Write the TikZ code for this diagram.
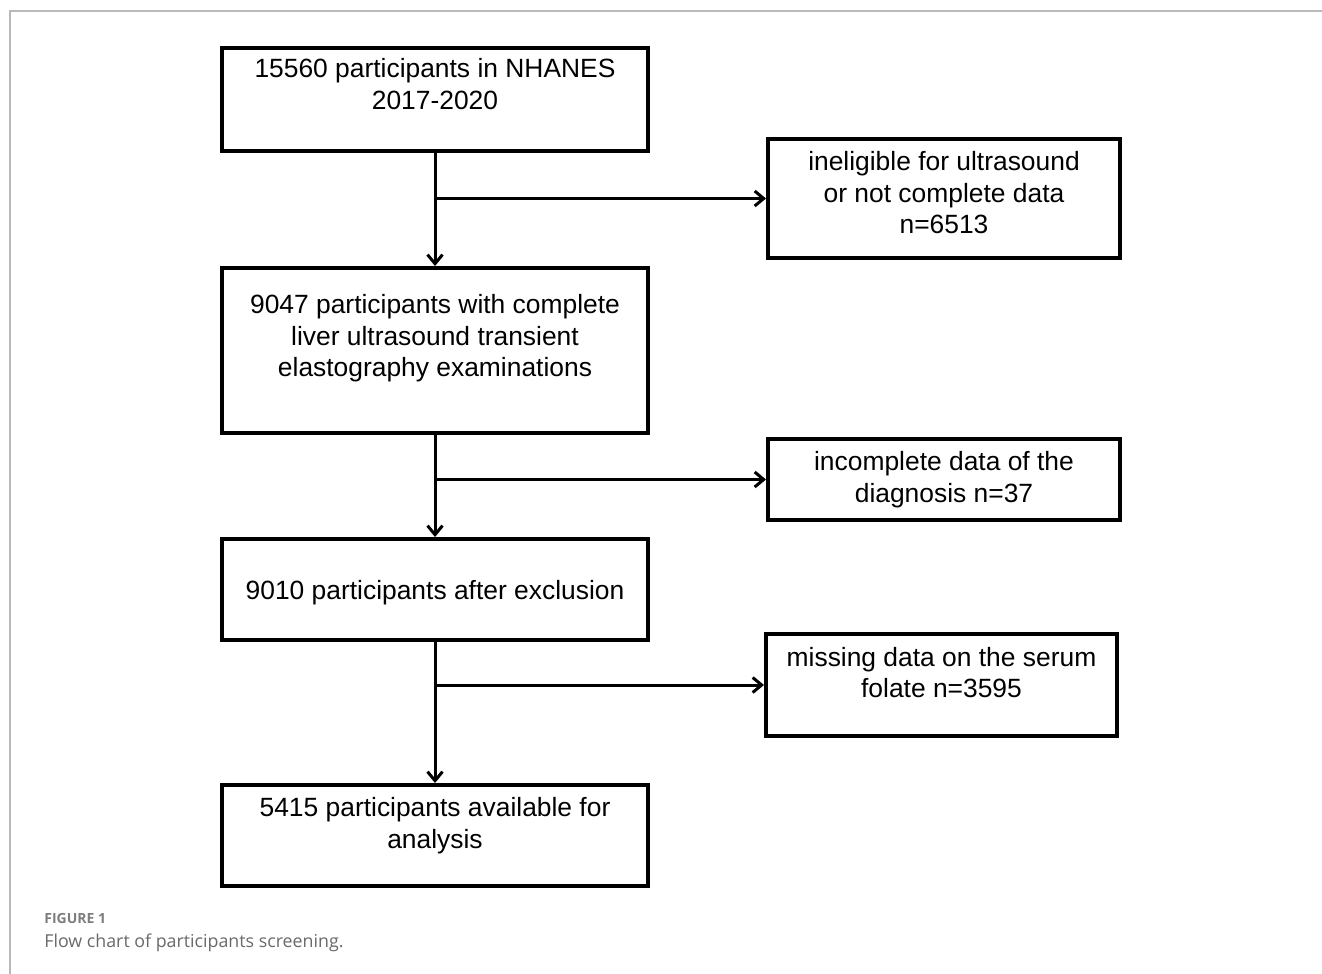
\documentclass[tikz,border=0pt]{standalone}
\usepackage{fontspec}
\setmainfont{Liberation Sans}
\newfontfamily\capfont{Open Sans}
\usepackage{xcolor}
\usetikzlibrary{arrows.meta}

\definecolor{framegray}{RGB}{185,185,185}
\definecolor{capgray}{RGB}{105,105,105}
\definecolor{figgray}{RGB}{125,125,125}

% top aligned text inside a box of fixed height
\newcommand{\boxtext}[4][200pt]{\parbox[c][#2][t]{#1}{\centering\vspace*{#3}#4}}

\begin{document}
\begin{tikzpicture}[x=0.5pt,y=-0.5pt,>={Straight Barb[length=4.5pt,width=7.5pt]}]
  \tikzset{
    stepbox/.style={draw, line width=2pt, inner sep=0pt, minimum width=213pt,
      font=\fontsize{13.2}{15.8}\selectfont},
    sidebox/.style={stepbox, minimum width=176pt},
    flow/.style={->, line width=1.5pt}
  }
  \useasboundingbox (0,0) rectangle (1322,974);
  % frame of the figure
  \draw[framegray, line width=0.8pt] (10,974) -- (10,11) -- (1322,11);

  \node[stepbox] (total)   at (435,99.5)  {\boxtext{51.5pt}{5.3pt}{15560 participants in NHANES\\2017-2020}};
  \node[sidebox] (ex1)     at (944,198.5) {\boxtext[165pt]{59.5pt}{6.2pt}{ineligible for ultrasound\\or not complete data\\n=6513}};
  \node[stepbox] (liver)   at (435,350.5) {\boxtext{82.5pt}{13.2pt}{9047 participants with complete\\liver ultrasound transient\\elastography examinations}};
  \node[sidebox] (ex2)     at (944,479.5) {\boxtext[165pt]{40.5pt}{6.4pt}{incomplete data of the\\diagnosis n=37}};
  \node[stepbox] (after)   at (435,589.5) {\boxtext{50.5pt}{20.9pt}{9010 participants after exclusion}};
  \node[sidebox, minimum width=175.5pt] (ex3) at (941.5,685) {\boxtext[165pt]{51pt}{6.6pt}{missing data on the serum\\folate n=3595}};
  \node[stepbox] (final)   at (435,835.5) {\boxtext{50.5pt}{6.3pt}{5415 participants available for\\analysis}};

  \draw[flow] (total.south) -- (liver.north);
  \draw[flow] (total.south |- ex1.west) -- (ex1.west);
  \draw[flow] (liver.south) -- (after.north);
  \draw[flow] (liver.south |- ex2.west) -- (ex2.west);
  \draw[flow] (after.south) -- (final.north);
  \draw[flow] (after.south |- ex3.west) -- (ex3.west);

  % caption
  \node[anchor=base west, inner sep=0pt, text=figgray, font=\capfont\bfseries\fontsize{7}{8}\selectfont] (fig) at (44,923) {FIGURE 1};
  \node[anchor=base west, inner sep=0pt, text=capgray, font=\capfont\fontsize{8.9}{10}\selectfont] (cap) at (44,947) {Flow chart of participants screening.};
\end{tikzpicture}
\end{document}
